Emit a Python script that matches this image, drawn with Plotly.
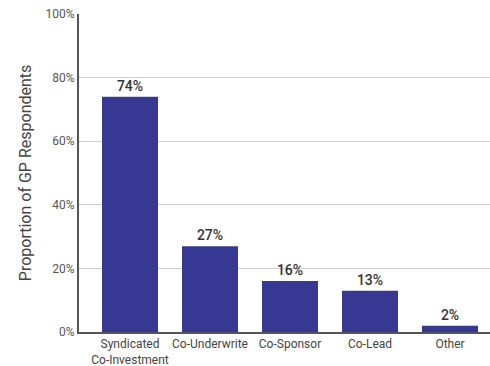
import plotly.graph_objects as go

categories = ["Syndicated<br>Co-Investment", "Co-Underwrite", "Co-Sponsor", "Co-Lead", "Other"]
values = [74, 27, 16, 13, 2]
labels = ["74%", "27%", "16%", "13%", "2%"]
tick_vals = [0, 20, 40, 60, 80, 100]
tick_text = ["0%", "20%", "40%", "60%", "80%", "100%"]
y_title = "Proportion of GP Respondents"

FONT = "Roboto, Arial"

fig = go.Figure(go.Bar(
    x=list(range(len(categories))),
    y=values,
    marker=dict(color="#373893", line=dict(width=0)),
    text=labels,
    textposition="outside",
    textfont=dict(family=FONT, size=14, color="#333333", weight=500),
    cliponaxis=False,
))

fig.update_layout(
    width=490, height=366,
    margin=dict(l=79, r=0, t=14, b=34),
    paper_bgcolor="white", plot_bgcolor="white",
    bargap=0.3,
    showlegend=False,
    font=dict(family=FONT, color="#555555"),
    annotations=[dict(
        text=y_title, textangle=-90,
        xref="paper", yref="paper", x=-0.131, y=0.5,
        xanchor="center", yanchor="middle", showarrow=False,
        font=dict(family=FONT, size=16, color="#444444"),
    )],
)
fig.update_xaxes(
    range=[-0.6375, 4.5],
    tickvals=list(range(len(categories))),
    ticktext=categories,
    tickangle=0,
    automargin=False,
    tickfont=dict(family=FONT, size=12, color="#444444"),
    showline=True, linecolor="#555555", linewidth=2,
    ticks="", showgrid=False, zeroline=False,
)
fig.update_yaxes(
    range=[0, 100],
    tickvals=tick_vals,
    ticktext=tick_text,
    automargin=False,
    tickfont=dict(family=FONT, size=12, color="#555555"),
    showgrid=True, gridcolor="#d0d0d0", gridwidth=1,
    showline=True, linecolor="#555555", linewidth=2,
    zeroline=False, ticks="",
)

fig.write_html("out.html")
